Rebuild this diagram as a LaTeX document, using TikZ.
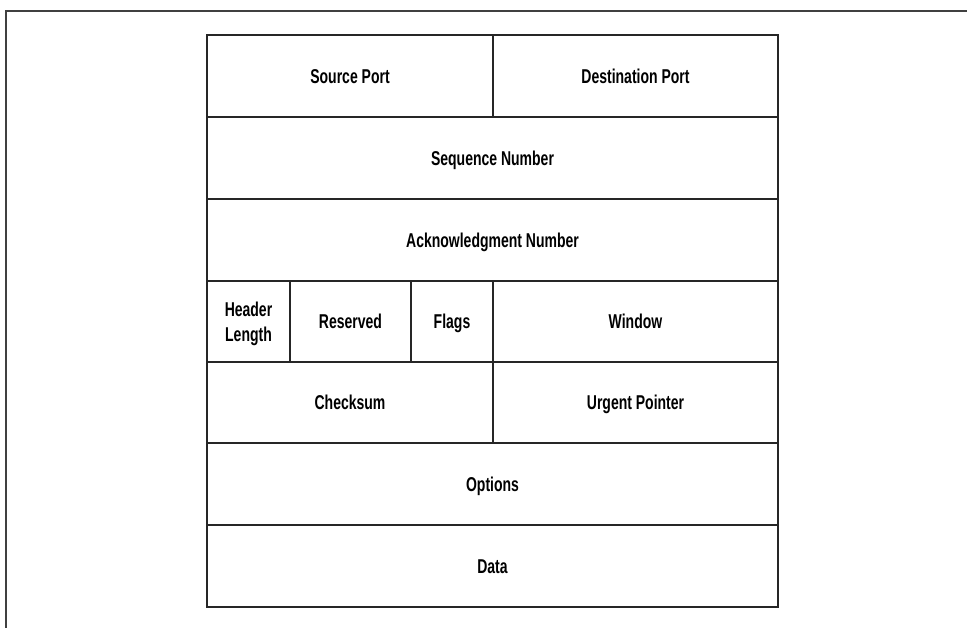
\documentclass[tikz,border=0pt]{standalone}
\usepackage{fontspec}
\setmainfont{Liberation Sans}[FakeStretch=0.7]

\begin{document}
\begin{tikzpicture}[x=0.75pt,y=-0.75pt,line join=miter,
    field/.style={draw=black!85,line width=0.9pt},
    label/.style={font=\fontsize{15}{18.75}\selectfont\bfseries,align=center,
      inner sep=0pt,text height=10.7pt,text depth=0pt}]
  \useasboundingbox (0,0) rectangle (967,628);

  % frame along the top and left side
  \draw[black!75,line width=1.5pt] (967,11) -- (6,11) -- (6,628);

  % first word: ports
  \draw[field] (207,35) rectangle (493,117);
  \draw[field] (493,35) rectangle (778,117);
  \node[label] (src) at (350,76) {Source Port};
  \node[label] (dst) at (635.5,76) {Destination Port};

  % sequence and acknowledgment numbers
  \draw[field] (207,117) rectangle (778,199);
  \draw[field] (207,199) rectangle (778,281);
  \node[label] (seq) at (492.5,158) {Sequence Number};
  \node[label] (ack) at (492.5,240) {Acknowledgment Number};

  % header length, reserved bits, flags and window
  \draw[field] (207,281) rectangle (290,362);
  \draw[field] (290,281) rectangle (411,362);
  \draw[field] (411,281) rectangle (493,362);
  \draw[field] (493,281) rectangle (778,362);
  \node[label,text height=29.45pt] (hlen) at (248.5,321.5) {Header\\Length};
  \node[label] (rsv) at (350.5,321.5) {Reserved};
  \node[label] (flags) at (452,321.5) {Flags};
  \node[label] (win) at (635.5,321.5) {Window};

  % checksum and urgent pointer
  \draw[field] (207,362) rectangle (493,443);
  \draw[field] (493,362) rectangle (778,443);
  \node[label] (csum) at (350,402.5) {Checksum};
  \node[label] (urg) at (635.5,402.5) {Urgent Pointer};

  % options and payload
  \draw[field] (207,443) rectangle (778,525);
  \draw[field] (207,525) rectangle (778,607);
  \node[label] (opt) at (492.5,484) {Options};
  \node[label] (data) at (492.5,566) {Data};
\end{tikzpicture}
\end{document}
